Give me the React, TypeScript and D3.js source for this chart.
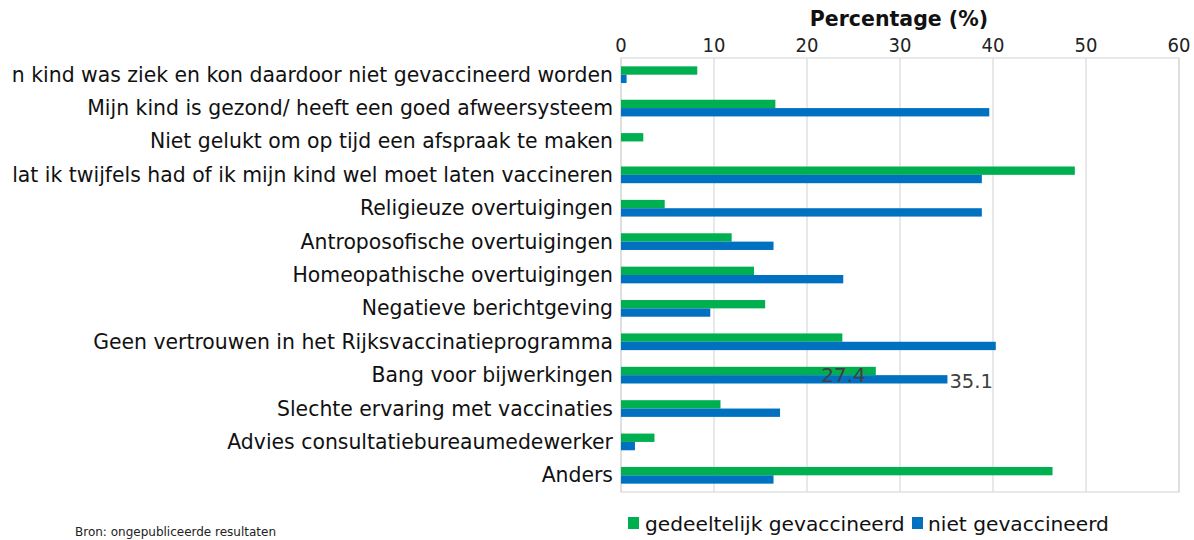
import React from "react";
import * as d3 from "d3";

// Category labels as they appear in the reference (the two longest are cut off at the left there)
const categories = [
  "n kind was ziek en kon daardoor niet gevaccineerd worden",
  "Mijn kind is gezond/ heeft een goed afweersysteem",
  "Niet gelukt om op tijd een afspraak te maken",
  "lat ik twijfels had of ik mijn kind wel moet laten vaccineren",
  "Religieuze overtuigingen",
  "Antroposofische overtuigingen",
  "Homeopathische overtuigingen",
  "Negatieve berichtgeving",
  "Geen vertrouwen in het Rijksvaccinatieprogramma",
  "Bang voor bijwerkingen",
  "Slechte ervaring met vaccinaties",
  "Advies consultatiebureaumedewerker",
  "Anders",
];

const gedeeltelijk = [8.2, 16.6, 2.4, 48.8, 4.7, 11.9, 14.3, 15.5, 23.8, 27.4, 10.7, 3.6, 46.4];
const niet = [0.6, 39.6, 0, 38.8, 38.8, 16.4, 23.9, 9.6, 40.3, 35.1, 17.1, 1.5, 16.4];

const ticks = [0, 10, 20, 30, 40, 50, 60];
const seriesNames = ["gedeeltelijk gevaccineerd", "niet gevaccineerd"];
const colors = ["#00b050", "#0070c0"];
const labelled = [{ idx: 9, series: 0 }, { idx: 9, series: 1 }];

const W = 1194;
const H = 540;
const COND = "'DejaVu Sans Condensed', 'DejaVu Sans', sans-serif";
const FONT = "'DejaVu Sans', Verdana, sans-serif";

export default function App() {
  const x = d3.scaleLinear().domain([0, 60]).range([621, 1179]);
  const y = d3.scaleBand<string>().domain(categories).range([58, 492]).padding(0);
  const bw = y.bandwidth();
  const barH = bw * 0.25;
  const series = [gedeeltelijk, niet];

  return (
    <div style={{ position: "absolute", left: 0, top: 0 }}>
      <svg width={W} height={H} style={{ display: "block", background: "#fff" }}>
        <rect x={0} y={0} width={W} height={H} fill="#fff" />
        {/* grid */}
        {ticks.map((t) => (
          <line key={"g" + t} x1={x(t)} x2={x(t)} y1={58} y2={492} stroke="#d9d9d9" strokeWidth={1.2} />
        ))}
        <rect x={x(0)} y={58} width={x(60) - x(0)} height={434} fill="none" stroke="#d9d9d9" strokeWidth={1.2} />
        {/* tick labels */}
        {ticks.map((t) => (
          <text key={"t" + t} x={x(t)} y={52} textAnchor="middle" fontFamily={COND} fontSize={20} fill="#222">
            {t}
          </text>
        ))}
        <text x={899} y={26} textAnchor="middle" fontFamily={FONT} fontSize={20.5} fontWeight="bold" fill="#111">
          Percentage (%)
        </text>
        {/* bars */}
        {categories.map((c, i) => {
          const c0 = (y(c) as number) + bw / 2 - barH;
          return (
            <g key={c}>
              {series.map((s, k) => (
                <rect
                  key={k}
                  x={x(0)}
                  y={c0 + k * barH}
                  width={Math.max(0, x(s[i]) - x(0))}
                  height={barH}
                  fill={colors[k]}
                />
              ))}
              <text
                x={613}
                y={(y(c) as number) + bw / 2 + 7}
                textAnchor="end"
                fontFamily={FONT}
                fontSize={20.4}
                fill="#111"
              >
                {c}
              </text>
            </g>
          );
        })}
        {/* data labels */}
        {labelled.map(({ idx, series: k }) => {
          const c = categories[idx];
          const v = series[k][idx];
          const cy = (y(c) as number) + bw / 2;
          return k === 0 ? (
            <text key={k} x={x(v) - 10} y={cy + 7} textAnchor="end" fontFamily={FONT} fontSize={20} fill="#404040">
              {v.toFixed(1)}
            </text>
          ) : (
            <text key={k} x={x(v) + 2} y={cy + 13} textAnchor="start" fontFamily={FONT} fontSize={19.5} fill="#404040">
              {v.toFixed(1)}
            </text>
          );
        })}
        {/* legend */}
        <g>
          <rect x={628} y={517} width={11} height={12} fill={colors[0]} />
          <text x={645} y={531} fontFamily={FONT} fontSize={20.2} fill="#111">{seriesNames[0]}</text>
          <rect x={912} y={517} width={11} height={12} fill={colors[1]} />
          <text x={928} y={531} fontFamily={FONT} fontSize={20.2} fill="#111">{seriesNames[1]}</text>
        </g>
        <text x={75} y={536} fontFamily={FONT} fontSize={12} fill="#222">
          Bron: ongepubliceerde resultaten
        </text>
      </svg>
    </div>
  );
}
